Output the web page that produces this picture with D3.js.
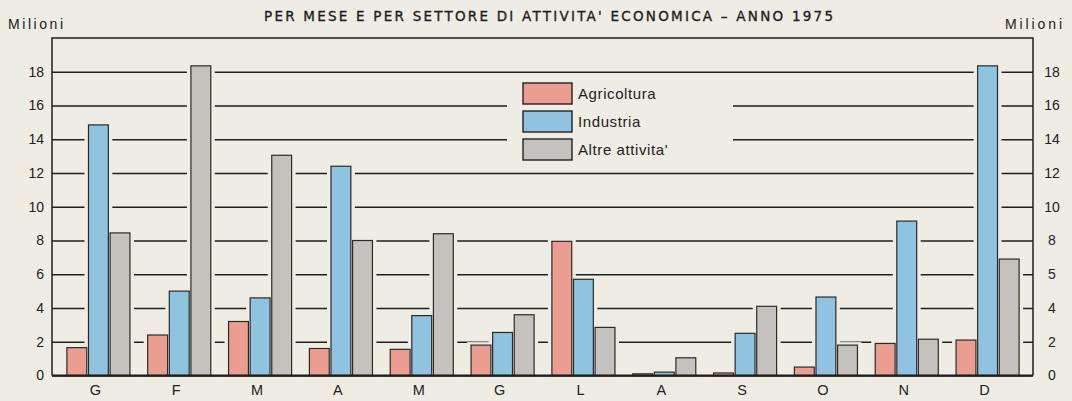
<!DOCTYPE html>
<style>
body { margin: 0; background-color: #efece4; }
svg { display: block; font-family: "Liberation Sans", Arial, sans-serif; }
.axis .domain { display: none; }
.grid line { stroke: #1e1e1e; stroke-width: 1.3; }
.grid text, .raxis text { font-size: 14px; fill: #222; }
.xaxis text { font-size: 14.5px; fill: #222; }
</style>
<svg width="1072" height="401"></svg>
<script src="https://d3js.org/d3.v7.min.js"></script>
<script>

var months = ["G", "F", "M", "A", "M", "G", "L", "A", "S", "O", "N", "D"];
var keys = ["Agricoltura", "Industria", "Altre attivita'"];
var agricoltura = [1.65, 2.4, 3.2, 1.6, 1.55, 1.8, 7.95, 0.1, 0.15, 0.5, 1.9, 2.1];
var industria = [14.85, 5.0, 4.6, 12.4, 3.55, 2.55, 5.7, 0.2, 2.5, 4.65, 9.15, 18.35];
var altre = [8.45, 18.35, 13.05, 8.0, 8.4, 3.6, 2.85, 1.05, 4.1, 1.8, 2.15, 6.9];
var yTicks = [0, 2, 4, 6, 8, 10, 12, 14, 16, 18];
var rightLabels = ["0", "2", "4", "5", "8", "10", "12", "14", "16", "18"];

var bg = "#efece4";
var svg = d3.select("svg"),
    pLeft = 52, pRight = 1033, pTop = 38, pBottom = 375.5;

var series = [agricoltura, industria, altre];
var data = months.map(function(m, i) {
  return keys.map(function(k, j) { return {i: i, key: k, value: series[j][i]}; });
});

var x0 = d3.scaleBand()
    .domain(d3.range(months.length))
    .range([58, 1028])
    .paddingInner(0.22)
    .paddingOuter(0.11);

var x1 = d3.scaleBand()
    .domain(keys)
    .range([0, x0.bandwidth()])
    .paddingInner(0.08);

var y = d3.scaleLinear()
    .domain([0, 20])
    .range([pBottom, pTop]);

var z = d3.scaleOrdinal()
    .domain(keys)
    .range(["#ec9d92", "#8fc3df", "#c5c2bd"]);

// titolo
svg.append("text")
    .attr("x", 264).attr("y", 21)
    .attr("textLength", 569).attr("lengthAdjust", "spacing")
    .attr("font-family", "DejaVu Sans").attr("font-size", 13.5)
    .attr("fill", "#1e1e1e").attr("stroke", "#1e1e1e").attr("stroke-width", 0.35)
    .text("PER MESE E PER SETTORE DI ATTIVITA' ECONOMICA – ANNO 1975");

svg.append("text")
    .attr("x", 8).attr("y", 29)
    .attr("textLength", 55).attr("lengthAdjust", "spacing")
    .attr("font-size", 14).attr("fill", "#222")
    .text("Milioni");

svg.append("text")
    .attr("x", 1005).attr("y", 29)
    .attr("textLength", 57).attr("lengthAdjust", "spacing")
    .attr("font-size", 14).attr("fill", "#222")
    .text("Milioni");

// griglia + asse sinistro
svg.append("g")
    .attr("class", "axis grid")
    .attr("transform", "translate(" + pLeft + ",0)")
    .call(d3.axisLeft(y).tickValues(yTicks).tickSize(-(pRight - pLeft)).tickPadding(8));

// asse destro
svg.append("g")
    .attr("class", "axis raxis")
    .attr("transform", "translate(" + (pRight + 19) + ",0)")
    .call(d3.axisRight(y).tickValues(yTicks).tickSize(0)
      .tickFormat(function(d, i) { return rightLabels[i]; }))
    .selectAll("text").attr("text-anchor", "middle").attr("x", 0);

// legenda
svg.append("rect")
    .attr("x", 507).attr("y", 78).attr("width", 226).attr("height", 88)
    .attr("fill", bg);

var legend = svg.append("g")
    .selectAll("g")
    .data(keys)
    .enter().append("g")
      .attr("transform", function(d, i) { return "translate(523," + (83 + i * 28) + ")"; });

legend.append("rect")
    .attr("width", 49).attr("height", 21)
    .attr("fill", z)
    .attr("stroke", "#222").attr("stroke-width", 1.4);

legend.append("text")
    .attr("x", 55).attr("y", 16)
    .attr("font-size", 15).attr("fill", "#222")
    .attr("letter-spacing", 0.6)
    .text(function(d) { return d; });

// barre
var groups = svg.append("g")
    .selectAll("g")
    .data(data)
    .enter().append("g")
      .attr("transform", function(d, i) { return "translate(" + x0(i) + ",0)"; });

groups.selectAll("rect.gap")
    .data(function(d) { return d; })
    .enter().append("rect")
      .attr("class", "gap")
      .attr("x", function(d) { return x1(d.key) - 4; })
      .attr("y", function(d) { return y(d.value) - 3; })
      .attr("width", x1.bandwidth() + 8)
      .attr("height", function(d) { return pBottom - y(d.value) + 2; })
      .attr("fill", bg);

groups.selectAll("rect.bar")
    .data(function(d) { return d; })
    .enter().append("rect")
      .attr("class", "bar")
      .attr("x", function(d) { return x1(d.key); })
      .attr("y", function(d) { return y(d.value); })
      .attr("width", x1.bandwidth())
      .attr("height", function(d) { return pBottom - y(d.value); })
      .attr("fill", function(d) { return z(d.key); })
      .attr("stroke", "#2a2a2a")
      .attr("stroke-width", 1.2);

// cornice
svg.append("path")
    .attr("d", "M" + pLeft + "," + pBottom + "V" + pTop + "H" + pRight + "V" + pBottom)
    .attr("fill", "none").attr("stroke", "#1e1e1e").attr("stroke-width", 1.5);

svg.append("line")
    .attr("x1", pLeft).attr("x2", pRight)
    .attr("y1", pBottom).attr("y2", pBottom)
    .attr("stroke", "#1e1e1e").attr("stroke-width", 1.8);

// mesi
svg.append("g")
    .attr("class", "axis xaxis")
    .attr("transform", "translate(-3," + pBottom + ")")
    .call(d3.axisBottom(x0).tickSize(0).tickPadding(9)
      .tickFormat(function(i) { return months[i]; }));

</script>
